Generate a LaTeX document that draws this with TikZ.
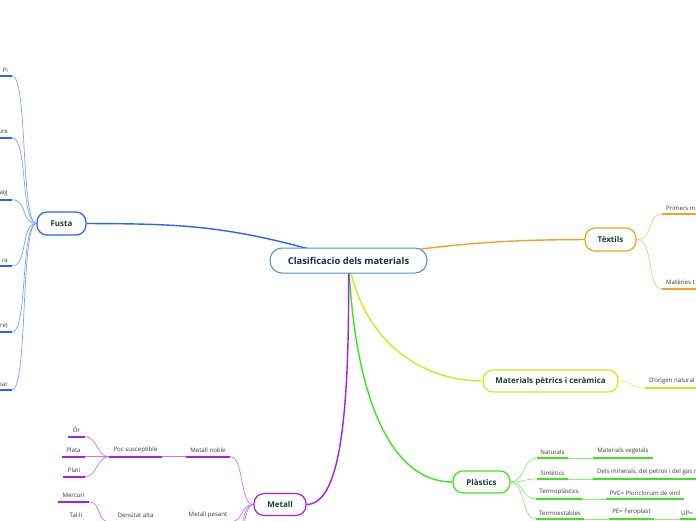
\documentclass[tikz,border=0pt]{standalone}
\usepackage{fontspec}
\setmainfont{Open Sans}
\usetikzlibrary{backgrounds}

\definecolor{titleC}{HTML}{4A8FD8}
\definecolor{titleT}{HTML}{1B2B55}
\definecolor{nodeT}{HTML}{17402F}
\definecolor{leafT}{HTML}{3A3A3A}
\definecolor{fustaC}{HTML}{2962FF}
\definecolor{texC}{HTML}{F7A11E}
\definecolor{matC}{HTML}{D2E81C}
\definecolor{plaC}{HTML}{3BE61A}
\definecolor{metC}{HTML}{A21FEF}

\begin{document}
\begin{tikzpicture}[x=1pt, y=-1pt,
  topic/.style={draw=#1, line width=1.2pt, fill=white, rounded corners=10pt,
    minimum height=22pt, inner xsep=8pt, text=nodeT,
    font=\fontsize{8}{9.5}\selectfont\bfseries},
  leaf/.style={inner xsep=3pt, inner ysep=3.5pt, anchor=south, text=leafT,
    font=\fontsize{6.1}{7}\selectfont},
  ul/.style={line width=2.2pt, draw=#1},
  branch/.style={line width=1.4pt, draw=#1},
  twig/.style={line width=0.7pt, draw=#1!60}]

  \clip (0,0) rectangle (696,520);

  % central topic
  \node[draw=titleC, line width=1pt, fill=white, rounded corners=12pt,
    minimum width=157pt, minimum height=25pt, text=titleT,
    font=\fontsize{9.4}{11}\selectfont\bfseries] (title) at (348.5,260.5)
    {Clasificacio dels materials};

  % main topics
  \node[topic=fustaC, minimum width=49pt, minimum height=23pt] (fusta) at (61.5,223.5) {Fusta};
  \node[topic=texC, minimum width=51pt, minimum height=23pt] (textils) at (610.5,239.5) {Tèxtils};
  \node[topic=matC, minimum width=135pt] (petrics) at (550.5,381) {Materials pètrics i ceràmica};
  \node[topic=plaC, minimum width=57pt] (plastics) at (481.5,482) {Plàstics};
  \node[topic=metC, minimum width=52pt] (metall) at (280,504.5) {Metall};

  % Fusta leaves (cut by the left edge)
  \node[leaf, anchor=south east, inner xsep=4pt] (pi) at (12,75.7) {Pi};
  \node[leaf, anchor=south east, inner xsep=4pt] (roure) at (12,137.7) {ure};
  \node[leaf, anchor=south east, inner xsep=4pt] (faig) at (12,199.7) {aig};
  \node[leaf, anchor=south east, inner xsep=4pt] (fustaD) at (12,266) {ra};
  \node[leaf, anchor=south east, inner xsep=4pt] (fustaE) at (12,332.3) {re)};
  \node[leaf, anchor=south east, inner xsep=4pt] (fustaF) at (12,390) {ear};

  % Textils leaves
  \node[leaf, anchor=south west, inner xsep=4pt] (primers) at (662,214) {Primers ma};
  \node[leaf, anchor=south west, inner xsep=4pt] (materies) at (662,288.7) {Matèries t};

  % Petrics leaf
  \node[leaf, anchor=south west, inner xsep=4pt] (origen) at (645,388) {D'origen natural};

  % Plastics leaves
  \node[leaf, minimum width=31pt] (naturals) at (552.5,458) {Naturals};
  \node[leaf, minimum width=31pt] (sintetics) at (552.5,479) {Sintètics};
  \node[leaf, minimum width=46pt] (termopl) at (559,499) {Termoplàstics};
  \node[leaf, minimum width=48pt] (termoest) at (560,519) {Termoestables};
  \node[leaf, minimum width=60pt] (vegetals) at (623,458) {Materials vegetals};
  \node[leaf, anchor=south west, inner xsep=4pt] (minerals) at (593,479)
    {Dels minerals, del petroli i del gas n};
  \node[leaf, minimum width=78pt] (pvc) at (645,499) {PVC= Ploriclorum de vinil};
  \node[leaf, minimum width=45pt] (pe) at (631.5,519) {PE= Feroplast};
  \node[leaf, anchor=south west, inner xsep=1pt] (up) at (680,519) {UP=};

  % Metall leaves
  \node[leaf, minimum width=44pt] (noble) at (208,456.7) {Metall noble};
  \node[leaf, minimum width=53pt] (poc) at (135.5,456.7) {Poc susceptible};
  \node[leaf, minimum width=17pt] (or) at (76.5,436.7) {Ór};
  \node[leaf, minimum width=23pt] (plata) at (73.5,456.7) {Plata};
  \node[leaf, minimum width=22pt] (plati) at (74,476.7) {Plati};
  \node[leaf, minimum width=31pt] (mercuri) at (73.5,501.7) {Mercuri};
  \node[leaf, minimum width=26pt] (talli) at (76,521.7) {Tal·li};
  \node[leaf, minimum width=53pt] (densitat) at (135.5,521.7) {Densitat alta};
  \node[leaf, minimum width=44pt] (pesant) at (208,521.7) {Metall pesant};
  \coordinate (metX) at (230,548);
  \coordinate (metY) at (230,578);

  \begin{scope}[on background layer]
    % branches from the centre
    \draw[branch=fustaC] (title.center) .. controls (230,224) and (180,224) .. (fusta.east);
    \draw[branch=texC] (title.center) .. controls (460,240) and (530,240) .. (textils.west);
    \draw[branch=matC] (title.center) .. controls (362,340) and (420,381) .. (petrics.west);
    \draw[branch=plaC] (title.center) .. controls (356,420) and (400,482) .. (plastics.west);
    \draw[branch=metC] (title.center) .. controls (350,430) and (338,504) .. (metall.east);

    % Fusta
    \foreach \n in {pi,roure,faig,fustaD,fustaE,fustaF} {
      \draw[twig=fustaC] (fusta.west) .. controls +(-16,0) and +(16,0) .. (\n.south east);
      \draw[ul=fustaC] (\n.south east) -- ++(-30,0);
    }

    % Textils
    \foreach \n in {primers,materies} {
      \draw[twig=texC] (textils.east) .. controls +(18,0) and +(-16,0) .. (\n.south west);
      \draw[ul=texC] (\n.south west) -- ++(40,0);
    }

    % Petrics
    \draw[twig=matC] (petrics.east) .. controls +(14,0) and +(-14,0) .. (origen.south west);
    \draw[ul=matC] (origen.south west) -- ++(56,0);

    % Plastics
    \foreach \n in {naturals,sintetics,termopl,termoest}
      \draw[twig=plaC] (plastics.east) .. controls +(14,0) and +(-14,0) .. (\n.south west);
    \foreach \a/\b in {naturals/vegetals,sintetics/minerals,termopl/pvc,termoest/pe,pe/up}
      \draw[twig=plaC] (\a.south east) -- (\b.south west);
    \foreach \n in {naturals,sintetics,termopl,termoest,vegetals,pvc,pe}
      \draw[ul=plaC] (\n.south west) -- (\n.south east);
    \draw[ul=plaC] (minerals.south west) -- ++(110,0);
    \draw[ul=plaC] (up.south west) -- ++(30,0);

    % Metall
    \foreach \n in {noble,pesant}
      \draw[twig=metC] (metall.west) .. controls +(-14,0) and +(14,0) .. (\n.south east);
    \foreach \n in {metX,metY}
      \draw[twig=metC] (metall.west) .. controls +(-14,0) and +(14,0) .. (\n);
    \draw[twig=metC] (poc.south east) -- (noble.south west);
    \draw[twig=metC] (densitat.south east) -- (pesant.south west);
    \foreach \n in {or,plata,plati}
      \draw[twig=metC] (poc.south west) .. controls +(-12,0) and +(12,0) .. (\n.south east);
    \foreach \n in {mercuri,talli}
      \draw[twig=metC] (densitat.south west) .. controls +(-12,0) and +(12,0) .. (\n.south east);
    \foreach \n in {noble,poc,or,plata,plati,mercuri,talli,densitat,pesant}
      \draw[ul=metC] (\n.south west) -- (\n.south east);
  \end{scope}
\end{tikzpicture}
\end{document}
